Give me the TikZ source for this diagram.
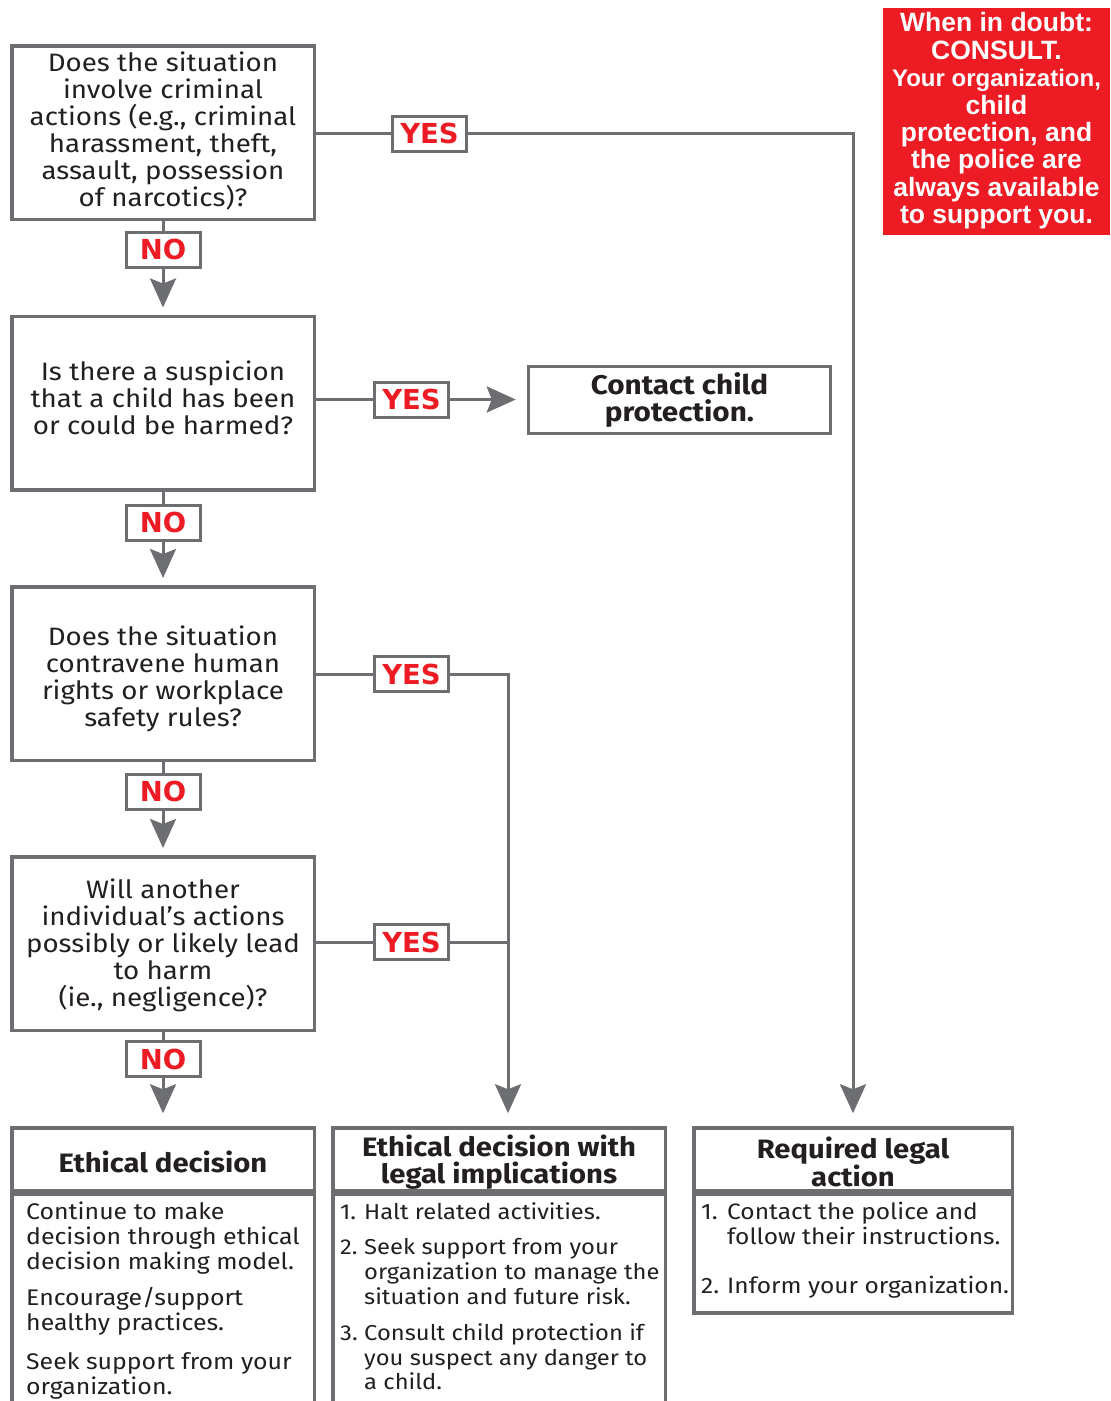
\documentclass[tikz,border=0pt]{standalone}
\usepackage{fontspec}
\setmainfont{Fira Sans}[FakeStretch=1.1]
\newfontfamily\labelfont{DejaVu Sans}
\newfontfamily\notefont{Liberation Sans}
\usetikzlibrary{arrows.meta}

\definecolor{lineg}{HTML}{6D6E71}
\definecolor{alertred}{HTML}{ED1C24}
\definecolor{ink}{HTML}{231F20}

% numbered item with hanging indent
\newcommand{\itm}[3]{\makebox[#1][l]{#2}\parbox[t]{320pt}{#3}}
% taller first line, lowers a heading inside its box
\newcommand{\headstrut}{\rule{0pt}{26pt}}

\begin{document}
\begin{tikzpicture}[x=1pt,y=-1pt,
  qbox/.style={draw=lineg, line width=3.5pt, minimum width=302.5pt,
    minimum height=173.5pt, inner sep=0pt},
  qtext/.style={align=center, inner sep=0pt, text=ink,
    font=\fontsize{25.2}{27}\selectfont},
  yn/.style={draw=lineg, line width=3pt, fill=white, text=alertred,
    font=\labelfont\bfseries\fontsize{27.5}{30}\selectfont,
    minimum width=74pt, minimum height=35pt, inner sep=0pt},
  conn/.style={draw=lineg, line width=3pt},
  arr/.style={conn, -{Stealth[width=26pt,length=29pt,inset=5pt]}},
  headbox/.style={draw=lineg, line width=3.5pt, minimum height=63pt,
    align=center, inner sep=0pt, text=ink,
    font=\bfseries\fontsize{26.6}{27}\selectfont},
  bodybox/.style={draw=lineg, line width=3.5pt, anchor=north, inner sep=0pt},
  bodytext/.style={anchor=north west, inner sep=0pt, align=left, text=ink,
    font=\fontsize{22.6}{24.8}\selectfont},
  listtext/.style={bodytext, font=\fontsize{21.6}{24.6}\selectfont},
  note/.style={fill=alertred, minimum width=227pt, minimum height=227pt,
    inner sep=0pt, align=center, text=white,
    font=\notefont\bfseries\fontsize{26.5}{27.4}\selectfont}
]
\useasboundingbox (0,0) rectangle (1111,1401);
\clip (0,0) rectangle (1111,1401);

% question boxes and their wording
\node[qbox] (q1) at (163,132.5) {};
\node[qbox] (q2) at (163,403) {};
\node[qbox] (q3) at (163,673.5) {};
\node[qbox] (q4) at (163,943.5) {};
\node[qtext] (q1t) at (163,130.5) {Does the situation\\involve criminal\\actions (e.g., criminal\\harassment, theft,\\assault, possession\\of narcotics)?};
\node[qtext] (q2t) at (163,397.5) {Is there a suspicion\\that a child has been\\or could be harmed?};
\node[qtext] (q3t) at (163,679) {Does the situation\\contravene human\\rights or workplace\\safety rules?};
\node[qtext] (q4t) at (163,945.5) {Will another\\individual’s actions\\possibly or likely lead\\to harm\\(ie., negligence)?};

% outcome boxes
\node[draw=lineg, line width=3.5pt, minimum width=302pt, minimum height=67pt,
  inner sep=0pt, align=center, text=ink, font=\bfseries\fontsize{27}{27}\selectfont]
  (cp) at (679.5,400) {Contact child\\protection.};

\node[headbox, minimum width=302.5pt] (ha) at (163,1159.5) {\headstrut Ethical decision};
\node[headbox, minimum width=332.5pt] (hb) at (499,1159.5) {\headstrut Ethical decision with\\legal implications};
\node[headbox, minimum width=318.5pt] (hc) at (853,1159.5) {\headstrut Required legal\\action};

\node[bodybox, minimum width=302.5pt, minimum height=240pt] (ba) at (ha.south) {};
\node[bodybox, minimum width=332.5pt, minimum height=240pt] (bb) at (hb.south) {};
\node[bodybox, minimum width=318.5pt, minimum height=118.5pt] (bc) at (hc.south) {};

\node[bodytext] (ta) at (26,1202) {Continue to make\\decision through ethical\\decision making model.\\[11pt]Encourage/support\\healthy practices.\\[15pt]Seek support from your\\organization.};

\node[listtext] (tb1) at (340,1202.5) {\itm{24pt}{1.}{Halt related activities.}};
\node[listtext] (tb2) at (340,1238.5) {\itm{24pt}{2.}{Seek support from your\\organization to manage the\\situation and future risk.}};
\node[listtext] (tb3) at (340,1323.5) {\itm{24pt}{3.}{Consult child protection if\\you suspect any danger to\\a child.}};

\node[bodytext, font=\fontsize{22.3}{24.6}\selectfont] (tc1) at (701,1202) {\itm{26pt}{1.}{Contact the police and\\follow their instructions.}};
\node[bodytext, font=\fontsize{22.3}{24.6}\selectfont] (tc2) at (701,1276) {\itm{26pt}{2.}{Inform your organization.}};

% advice panel
\node[note] (tip) at (996.5,121) {When in doubt:\\CONSULT.\\\fontsize{24}{27.4}\selectfont Your organization,\\child\\protection, and\\the police are\\always available\\to support you.};

% YES / NO labels
\node[yn] (n1) at (163,249.5) {NO};
\node[yn] (n2) at (163,522.5) {NO};
\node[yn] (n3) at (163,791.5) {NO};
\node[yn] (n4) at (163,1059) {NO};
\node[yn] (y1) at (429.5,133.5) {YES};
\node[yn] (y2) at (411.5,399.5) {YES};
\node[yn] (y3) at (411.5,674) {YES};
\node[yn] (y4) at (411.5,942) {YES};

\coordinate (jb) at (508,674);

% NO branches
\draw[conn] (q1.south) -- (n1.north);
\draw[arr, shorten >=7pt] (n1.south) -- (q2.north);
\draw[conn] (q2.south) -- (n2.north);
\draw[arr, shorten >=7pt] (n2.south) -- (q3.north);
\draw[conn] (q3.south) -- (n3.north);
\draw[arr, shorten >=7pt] (n3.south) -- (q4.north);
\draw[conn] (q4.south) -- (n4.north);
\draw[arr, shorten >=13pt] (n4.south) -- (ha.north);

% YES branches
\draw[conn] (q1.east |- y1.west) -- (y1.west);
\draw[arr, shorten >=13pt] (y1.east) -| (hc.north);
\draw[conn] (q2.east |- y2.west) -- (y2.west);
\draw[arr, shorten >=11pt] (y2.east) -- (cp.west |- y2.east);
\draw[conn] (q3.east |- y3.west) -- (y3.west);
\draw[arr, shorten >=13pt] (y3.east) -- (jb) -- (jb |- hb.north);
\draw[conn] (q4.east |- y4.west) -- (y4.west);
\draw[conn] (y4.east) -- (jb |- y4.east);
\end{tikzpicture}
\end{document}
